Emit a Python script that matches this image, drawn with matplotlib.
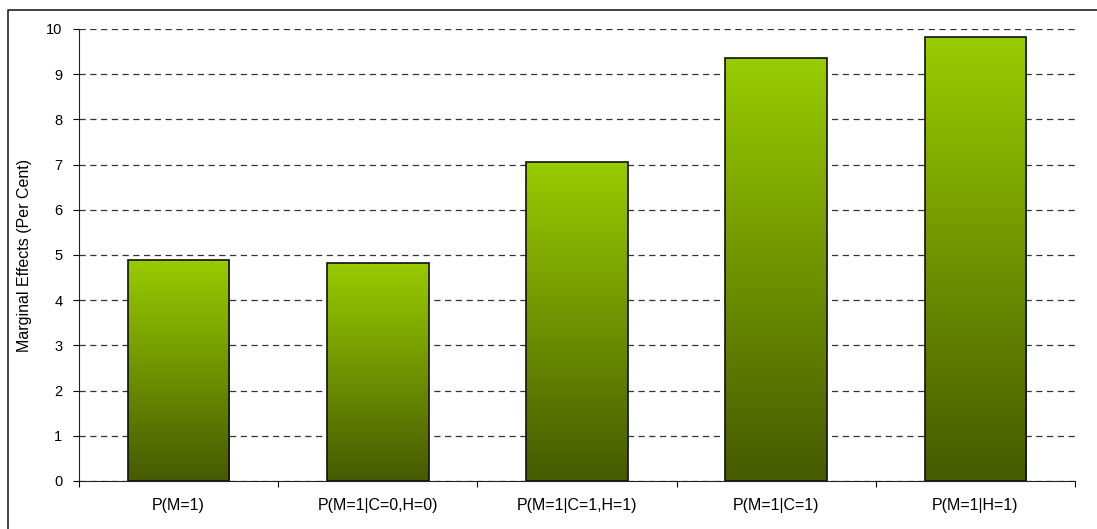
import matplotlib
matplotlib.use("Agg")
import matplotlib.pyplot as plt
import numpy as np
from matplotlib.colors import LinearSegmentedColormap
from matplotlib.lines import Line2D

categories = ["P(M=1)", "P(M=1|C=0,H=0)", "P(M=1|C=1,H=1)", "P(M=1|C=1)", "P(M=1|H=1)"]
values = [4.90, 4.83, 7.06, 9.36, 9.83]
y_ticks = list(range(0, 11))

plt.rcParams["font.family"] = ["Liberation Sans", "DejaVu Sans"]

W, H = 1097, 529
fig = plt.figure(figsize=(W / 100, H / 100), dpi=100)
ax = fig.add_axes([79 / W, (H - 481) / H, 996 / W, 452 / H])

# green gradient: bright at top, dark olive at bottom
cmap = LinearSegmentedColormap.from_list("bar", ["#465a00", "#99cc00"])
grad = np.linspace(0, 1, 256).reshape(-1, 1)

x = np.arange(len(categories))
bars = ax.bar(x, values, width=0.51, color="none", edgecolor="#111111",
              linewidth=1.2, zorder=3)
for b in bars:
    x0, y0 = b.get_x(), b.get_y()
    im = ax.imshow(grad, cmap=cmap, aspect="auto", origin="lower",
                   extent=[x0, x0 + b.get_width(), y0, y0 + b.get_height()],
                   zorder=2)
    im.set_clip_path(b)

ax.set_xlim(-0.5, len(categories) - 0.5)
ax.set_ylim(0, 10)
ax.set_yticks(y_ticks)
ax.set_xticks(x)
ax.set_xticklabels(categories)
ax.set_xticks(np.arange(-0.5, len(categories), 1.0), minor=True)
ax.tick_params(axis="x", which="major", length=0, pad=12, labelsize=11.5)
ax.tick_params(axis="x", which="minor", length=4, width=0.8, direction="out")
ax.tick_params(axis="y", length=4, width=0.8, direction="out", pad=8, labelsize=10.5)

ax.yaxis.grid(True, color="#333333", linewidth=0.9, dashes=(5, 3.6))
ax.set_axisbelow(True)
for s in ["top", "right"]:
    ax.spines[s].set_visible(False)
for s in ["left", "bottom"]:
    ax.spines[s].set_linewidth(0.8)
    ax.spines[s].set_color("#222222")

ax.set_ylabel("Marginal Effects (Per Cent)", fontsize=11.5)
ax.yaxis.set_label_coords(-0.047, 0.5)

# outer chart-area frame (partly cut off at right and bottom)
fig.add_artist(Line2D([8 / W, 8 / W, 1.0], [0.0, 1 - 10 / H, 1 - 10 / H],
                      transform=fig.transFigure, color="#222222", linewidth=1.2))

fig.savefig("out.png", dpi=100)
